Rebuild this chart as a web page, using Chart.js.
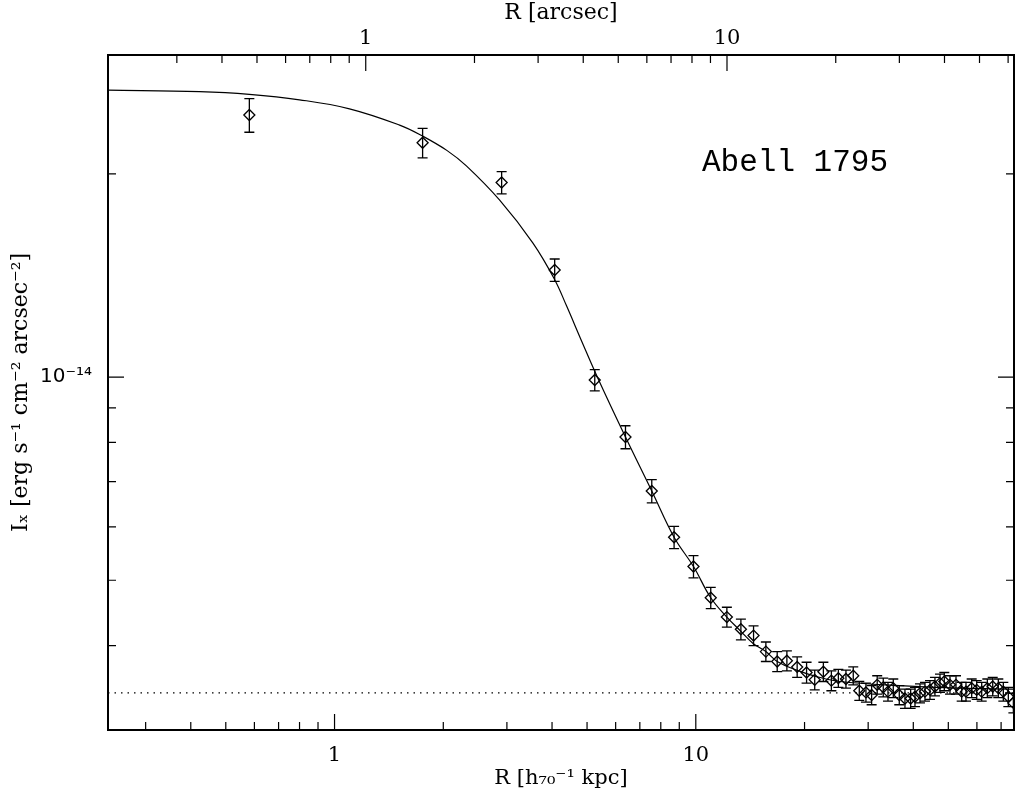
<!DOCTYPE html>
<html>
<head>
<meta charset="utf-8">
<script src="https://cdn.jsdelivr.net/npm/chart.js@4"></script>
<style>
  html, body { margin: 0; padding: 0; background: #fff; }
  #wrap { width: 1015px; height: 797px; }
</style>
</head>
<body>
<div id="wrap"><canvas id="profileChart" width="1015" height="797"></canvas></div>
<script>
// Surface brightness values are in units of 1e-14 erg s^-1 cm^-2 arcsec^-2
const UNIT = 1e-14;

// Measured profile (radius in h70^-1 kpc)
const rKpc = [0.581, 1.753, 2.901, 4.068, 5.252, 6.388, 7.553, 8.708, 9.854, 11.00,
    12.19, 13.33, 14.45, 15.63, 16.80, 17.87, 19.08, 20.26, 21.34, 22.55,
    23.73, 24.81, 26.04, 27.28, 28.35, 29.58, 30.67, 31.78, 33.03, 34.04,
    35.21, 36.58, 37.93, 39.33, 40.43, 41.74, 43.09, 44.49, 45.92, 47.42,
    48.74, 50.54, 52.51, 54.45, 55.96, 58.03, 59.92, 61.86, 64.12, 66.36,
    68.77, 71.0, 73.3, 75.7];
const surfBright = [2.445, 2.224, 1.942, 1.441, 0.990, 0.815, 0.678, 0.579, 0.524, 0.471,
    0.441, 0.423, 0.414, 0.392, 0.379, 0.380, 0.372, 0.365, 0.356, 0.366,
    0.355, 0.358, 0.357, 0.361, 0.343, 0.341, 0.338, 0.350, 0.347, 0.342,
    0.346, 0.338, 0.334, 0.334, 0.336, 0.340, 0.342, 0.344, 0.348, 0.352,
    0.354, 0.350, 0.350, 0.342, 0.342, 0.346, 0.344, 0.342, 0.346, 0.348,
    0.346, 0.342, 0.336, 0.329];
const surfErr = [0.140, 0.112, 0.074, 0.055, 0.036, 0.032, 0.027, 0.022, 0.020, 0.017,
    0.015, 0.015, 0.014, 0.013, 0.013, 0.013, 0.013, 0.013, 0.012, 0.012,
    0.012, 0.011, 0.011, 0.011, 0.011, 0.011, 0.011, 0.011, 0.011, 0.011,
    0.011, 0.011, 0.011, 0.011, 0.011, 0.011, 0.011, 0.011, 0.011, 0.011,
    0.011, 0.011, 0.011, 0.011, 0.011, 0.011, 0.011, 0.011, 0.011, 0.011,
    0.011, 0.011, 0.011, 0.011];

// Best fit model
const modelR = [0.236, 0.423, 0.581, 0.800, 1.100, 1.514, 1.742, 2.050, 2.317, 2.865,
    3.542, 4.068, 4.384, 4.832, 5.353, 6.388, 7.553, 8.708, 9.854, 11.00,
    12.19, 13.33, 14.41, 15.63, 16.80, 19.01, 21.60, 25.05, 36.74, 53.86, 76.0];
const modelI = [2.661, 2.647, 2.623, 2.575, 2.497, 2.362, 2.279, 2.165, 2.055, 1.828,
    1.579, 1.394, 1.276, 1.130, 0.997, 0.815, 0.678, 0.579, 0.524, 0.471,
    0.441, 0.420, 0.403, 0.392, 0.379, 0.368, 0.360, 0.354, 0.349, 0.346, 0.345];

// Background level (dotted line)
const bgLevel = 0.3406;

// Axis ranges and tick labels
const xRange = [0.236, 76.0];
const yRange = [0.3, 3.0];
const kpcPerArcsec = 1.22;
const xTickValues = [1, 10];
const xTickTexts = ['1', '10'];
const yTickValues = [1e-14];
const yTickTexts = ['10\u207B\u00B9\u2074'];

const serif = { family: 'DejaVu Serif', size: 21 };

function pickLabel(values, texts) {
    return v => {
        const i = values.findIndex(t => Math.abs(v / t - 1) < 1e-6);
        return i >= 0 ? texts[i] : '';
    };
}

// mantissa check for log ticks (1..9 x 10^n)
function tickKind(v) {
    const e = Math.floor(Math.log10(v) + 1e-9);
    const m = v / Math.pow(10, e);
    if (Math.abs(m - Math.round(m)) > 1e-6) return null;
    return Math.round(m) === 1 ? 'major' : 'minor';
}

// fix the axis box sizes so the plot frame lands where the original one is
function fixBox(w, h) {
    return s => {
        if (w !== null) s.width = w;
        if (h !== null) s.height = h;
        s.paddingLeft = 0; s.paddingRight = 0;
        s.paddingTop = 0; s.paddingBottom = 0;
    };
}

// Error bars under the diamonds
const errorBars = {
    id: 'errorBars',
    beforeDatasetsDraw(chart) {
        const { ctx, scales: { x, y } } = chart;
        ctx.save();
        ctx.strokeStyle = '#000';
        ctx.lineWidth = 1.3;
        rKpc.forEach((r, i) => {
            const px = x.getPixelForValue(r);
            const top = y.getPixelForValue((surfBright[i] + surfErr[i]) * UNIT);
            const bot = y.getPixelForValue((surfBright[i] - surfErr[i]) * UNIT);
            ctx.beginPath();
            ctx.moveTo(px, top); ctx.lineTo(px, bot);
            ctx.moveTo(px - 5, top); ctx.lineTo(px + 5, top);
            ctx.moveTo(px - 5, bot); ctx.lineTo(px + 5, bot);
            ctx.stroke();
        });
        ctx.restore();
    }
};

// Frame, inward ticks and the cluster name
const frameTicks = {
    id: 'frameTicks',
    afterDraw(chart) {
        const { ctx, chartArea: a, scales } = chart;
        ctx.save();
        ctx.strokeStyle = '#000';
        ctx.lineWidth = 1.2;
        const draw = (scale, fn) => scale.ticks.forEach(t => {
            const kind = tickKind(t.value);
            if (kind) fn(scale.getPixelForValue(t.value), kind === 'major' ? 16 : 8);
        });
        ctx.beginPath();
        draw(scales.x, (p, len) => { ctx.moveTo(p, a.bottom); ctx.lineTo(p, a.bottom - len); });
        draw(scales.xTop, (p, len) => { ctx.moveTo(p, a.top); ctx.lineTo(p, a.top + len); });
        draw(scales.y, (p, len) => {
            ctx.moveTo(a.left, p); ctx.lineTo(a.left + len, p);
            ctx.moveTo(a.right, p); ctx.lineTo(a.right - len, p);
        });
        ctx.stroke();

        ctx.lineWidth = 2;
        ctx.strokeRect(a.left, a.top, a.right - a.left, a.bottom - a.top);

        ctx.fillStyle = '#000';
        ctx.font = '31px "Liberation Mono"';
        ctx.textAlign = 'center';
        ctx.textBaseline = 'middle';
        ctx.fillText('Abell 1795', 795, 163);
        ctx.restore();
    }
};

const ctx = document.getElementById('profileChart').getContext('2d');

new Chart(ctx, {
    type: 'scatter',
    data: {
        datasets: [
            {
                label: 'model',
                data: modelR.map((r, i) => ({ x: r, y: modelI[i] * UNIT })),
                showLine: true,
                borderColor: '#000',
                borderWidth: 1.2,
                pointRadius: 0,
                tension: 0.4
            },
            {
                label: 'background',
                data: xRange.map(r => ({ x: r, y: bgLevel * UNIT })),
                showLine: true,
                borderColor: '#000',
                borderWidth: 1.2,
                borderDash: [1.5, 5],
                pointRadius: 0
            },
            {
                label: 'Abell 1795',
                data: rKpc.map((r, i) => ({ x: r, y: surfBright[i] * UNIT })),
                showLine: false,
                pointStyle: 'rectRot',
                pointRadius: 5.5,
                borderColor: '#000',
                backgroundColor: 'rgba(0,0,0,0)',
                borderWidth: 1.3
            }
        ]
    },
    options: {
        responsive: false,
        animation: false,
        devicePixelRatio: 1,
        layout: { autoPadding: false, padding: { left: 0, right: 1, top: 0, bottom: 0 } },
        plugins: {
            legend: { display: false },
            tooltip: { enabled: false }
        },
        scales: {
            x: {
                type: 'logarithmic',
                position: 'bottom',
                min: xRange[0],
                max: xRange[1],
                grid: { display: false, drawTicks: false },
                border: { display: false },
                ticks: {
                    autoSkip: false, maxRotation: 0, padding: 13,
                    color: '#000', font: serif,
                    callback: pickLabel(xTickValues, xTickTexts)
                },
                title: {
                    display: true, text: 'R [h\u2087\u2080\u207B\u00B9 kpc]',
                    color: '#000', font: serif, padding: { top: 0, bottom: 6 }
                },
                afterFit: fixBox(null, 67)
            },
            xTop: {
                type: 'logarithmic',
                axis: 'x',
                position: 'top',
                min: xRange[0] / kpcPerArcsec,
                max: xRange[1] / kpcPerArcsec,
                grid: { display: false, drawTicks: false },
                border: { display: false },
                ticks: {
                    autoSkip: false, maxRotation: 0, padding: 4,
                    color: '#000', font: serif,
                    callback: pickLabel(xTickValues, xTickTexts)
                },
                title: {
                    display: true, text: 'R [arcsec]',
                    color: '#000', font: { family: 'DejaVu Serif', size: 22 },
                    padding: { top: 0, bottom: 0 }
                },
                afterFit: fixBox(null, 55)
            },
            y: {
                type: 'logarithmic',
                min: yRange[0] * UNIT,
                max: yRange[1] * UNIT,
                grid: { display: false, drawTicks: false },
                border: { display: false },
                ticks: {
                    autoSkip: false, padding: 16,
                    color: '#000', font: { family: 'DejaVu Sans', size: 20 },
                    callback: pickLabel(yTickValues, yTickTexts)
                },
                title: {
                    display: true, text: 'I\u2093 [erg s\u207B\u00B9 cm\u207B\u00B2 arcsec\u207B\u00B2]',
                    color: '#000', font: { family: 'DejaVu Serif', size: 22 },
                    padding: { top: 8, bottom: 0 }
                },
                afterFit: fixBox(108, null)
            }
        }
    },
    plugins: [errorBars, frameTicks]
});
</script>
</body>
</html>
